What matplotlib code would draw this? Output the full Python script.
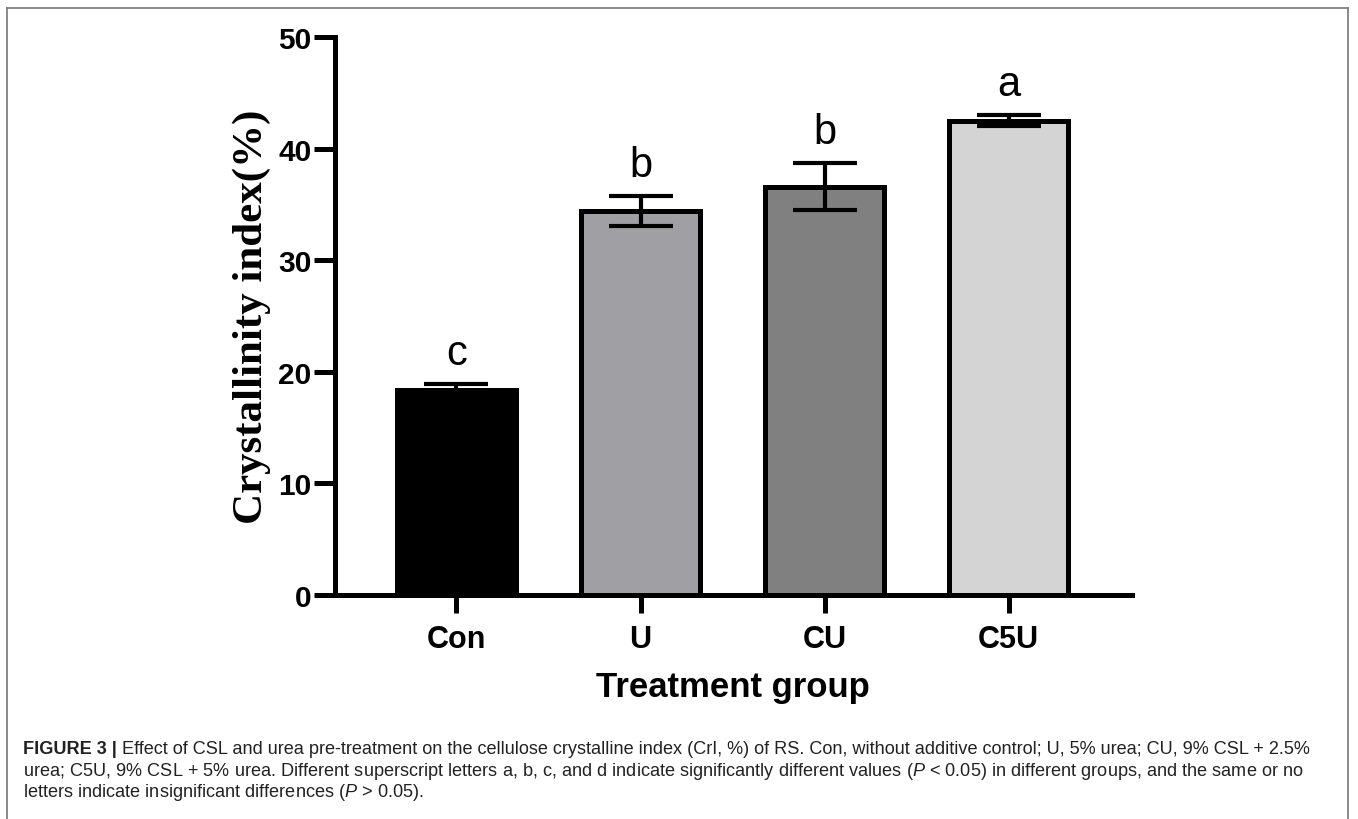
import matplotlib
matplotlib.use("Agg")
import matplotlib.pyplot as plt
from matplotlib.lines import Line2D

categories = ["Con", "U", "CU", "C5U"]
values = [18.4, 34.4, 36.6, 42.5]
errors = [0.5, 1.35, 2.1, 0.5]
letters = ["c", "b", "b", "a"]
yticks = [0, 10, 20, 30, 40, 50]
colors = ["#000000", "#A0A0A4", "#808080", "#D4D4D4"]

plt.rcParams['mathtext.fontset'] = 'custom'
plt.rcParams['mathtext.it'] = 'Liberation Sans:italic'
plt.rcParams['mathtext.rm'] = 'Liberation Sans'

W, H = 1358, 820
fig = plt.figure(figsize=(W / 100, H / 100), dpi=100)
ax = fig.add_axes([335 / W, 1 - 596 / H, (1132 - 335) / W, (596 - 38) / H])

x = list(range(len(categories)))
ax.bar(x, values, width=0.65, color=colors, edgecolor="black", linewidth=3.6, zorder=2)
ax.errorbar(x, values, yerr=errors, fmt="none", ecolor="black", elinewidth=3,
            capsize=23, capthick=3, zorder=3)
for xi, v, e, l in zip(x, values, errors, letters):
    ax.text(xi, v + e + 2.8, l, ha="center", va="center", fontsize=30,
            family="Liberation Sans", color="black")

ax.set_xlim(-0.66, 3.67)
ax.set_ylim(0, 50)
ax.set_xticks(x)
ax.set_xticklabels(categories, fontsize=22, fontweight="bold", family="Liberation Sans")
ax.set_yticks(yticks)
ax.set_yticklabels([str(t) for t in yticks], fontsize=21.5, fontweight="bold", family="Liberation Sans")
ax.tick_params(axis="x", length=13, width=3.6, pad=8, direction="out")
ax.tick_params(axis="y", length=15, width=3.6, pad=2, direction="out")
for s in ["top", "right"]:
    ax.spines[s].set_visible(False)
for s in ["left", "bottom"]:
    ax.spines[s].set_linewidth(3.6)

fig.text(252 / W, 1 - 317 / H, "Crystallinity index(%)", rotation=90, ha="center", va="center",
         fontsize=31, fontweight="bold", family="Liberation Serif")
fig.text(733 / W, 1 - 688 / H, "Treatment group", ha="center", va="center",
         fontsize=25, fontweight="bold", family="Liberation Sans")

# border
bc = "#777777"
fig.add_artist(Line2D([7 / W, 1348 / W], [1 - 9 / H, 1 - 9 / H], color=bc, lw=1.2))
fig.add_artist(Line2D([7 / W, 7 / W], [0, 1 - 9 / H], color=bc, lw=1.2))
fig.add_artist(Line2D([1348 / W, 1348 / W], [0, 1 - 9 / H], color=bc, lw=1.2))

# caption
cap_fs = 13.1
ccol = "#222222"
t1 = fig.text(23 / W, 1 - 750 / H, "FIGURE 3 |", ha="left", va="center", fontsize=cap_fs,
              fontweight="bold", family="Liberation Sans", color=ccol)
fig.canvas.draw()
ax.annotate(" Effect of CSL and urea pre-treatment on the cellulose crystalline index (CrI, %) of RS. "
            "Con, without additive control; U, 5% urea; CU, 9% CSL + 2.5%",
            xy=(1, 0.5), xycoords=t1, ha="left", va="center", fontsize=cap_fs,
            family="Liberation Sans", color=ccol, annotation_clip=False)
fig.text(23 / W, 1 - 772 / H,
         "urea; C5U, 9% CSL + 5% urea. Different superscript letters a, b, c, and d indicate significantly "
         "different values ($\\mathit{P}$ < 0.05) in different groups, and the same or no",
         ha="left", va="center", fontsize=cap_fs, family="Liberation Sans", color=ccol)
fig.text(23 / W, 1 - 793 / H,
         "letters indicate insignificant differences ($\\mathit{P}$ > 0.05).",
         ha="left", va="center", fontsize=cap_fs, family="Liberation Sans", color=ccol)

fig.savefig("out.png", dpi=100)
